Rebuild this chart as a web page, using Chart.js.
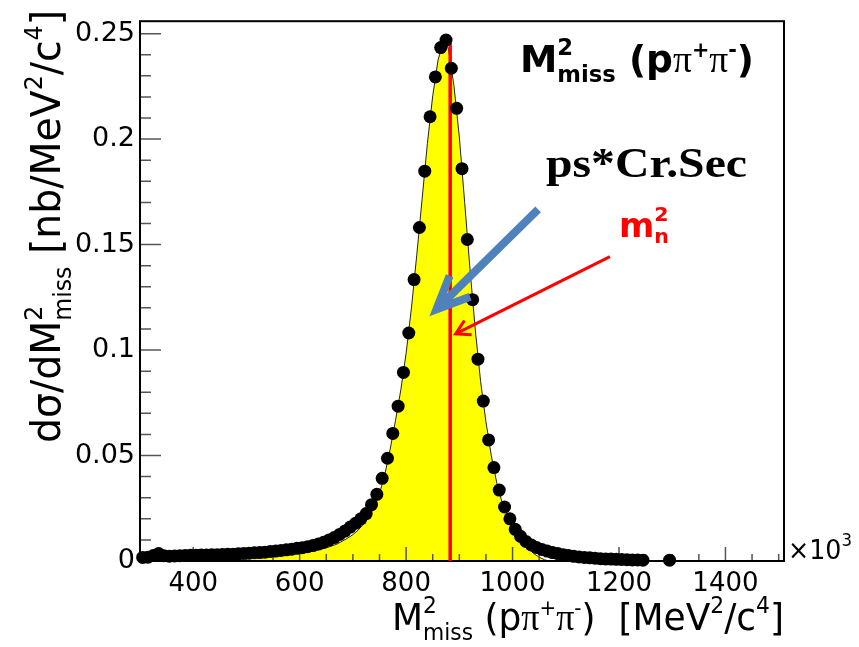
<!DOCTYPE html>
<html>
<head>
<meta charset="utf-8">
<script src="https://cdn.jsdelivr.net/npm/chart.js@4/dist/chart.umd.min.js"></script>
<style>
  html, body { margin: 0; padding: 0; background: #fff; }
  canvas { display: block; }
</style>
</head>
<body>
<canvas id="chart" width="859" height="647"></canvas>
<script>
// measured points (x in 10^3 MeV^2/c^4, y in nb/MeV^2/c^4)
const massBins = [
  305, 315, 325, 335, 345, 355, 365, 375, 385, 395, 405, 415, 425, 435, 445, 455, 465, 475, 485, 495,
  505, 515, 525, 535, 545, 555, 565, 575, 585, 595, 605, 615, 625, 635, 645, 655, 665, 675, 685, 695,
  705, 715, 725, 735, 745, 755, 765, 775, 785, 795, 805, 815, 825, 835, 845, 855, 865, 875, 885, 895,
  905, 915, 925, 935, 945, 955, 965, 975, 985, 995, 1005, 1015, 1025, 1035, 1045, 1055, 1065, 1075, 1085, 1095,
  1105, 1115, 1125, 1135, 1145, 1155, 1165, 1175, 1185, 1195, 1205, 1215, 1225, 1235, 1245, 1295
];
const crossSection = [
  0.0017, 0.0018, 0.0026, 0.0035, 0.0025, 0.0023, 0.0024, 0.0025, 0.0026, 0.0027, 0.0027, 0.0028, 0.0029, 0.0030, 0.0030, 0.0031, 0.0032, 0.0032, 0.0034, 0.0036,
  0.0037, 0.0039, 0.0040, 0.0042, 0.0045, 0.0047, 0.0050, 0.0053, 0.0056, 0.0060, 0.0063, 0.0068, 0.0073, 0.0080, 0.0089, 0.0099, 0.0111, 0.0126, 0.0142, 0.0161,
  0.0179, 0.0200, 0.0225, 0.0267, 0.0316, 0.0392, 0.0487, 0.0605, 0.0734, 0.0894, 0.1081, 0.1334, 0.1581, 0.1848, 0.2106, 0.2295, 0.2434, 0.2470, 0.2336, 0.2146,
  0.1860, 0.1524, 0.1239, 0.0957, 0.0758, 0.0574, 0.0443, 0.0336, 0.0256, 0.0200, 0.0150, 0.0117, 0.0093, 0.0076, 0.0064, 0.0055, 0.0047, 0.0040, 0.0035, 0.0030,
  0.0026, 0.0022, 0.0019, 0.0017, 0.0015, 0.0013, 0.0011, 0.0010, 0.0009, 0.0008, 0.0007, 0.0006, 0.0005, 0.0005, 0.0004, 0.0004
];

// phase space * cross section curve (yellow)
const curveMass = [
  300, 350, 400, 450, 500, 550, 600, 630, 650, 670, 690, 700, 710, 720, 730, 740, 750, 760, 770, 780,
  790, 800, 810, 820, 830, 840, 850, 860, 868, 874, 880, 890, 900, 910, 920, 930, 940, 950, 960, 970,
  980, 990, 1000, 1010, 1020, 1030, 1040, 1050, 1060, 1068
];
const curveValues = [
  0.0008, 0.0012, 0.0015, 0.0019, 0.0024, 0.0030, 0.0040, 0.0050, 0.0062, 0.0080, 0.0108, 0.0125, 0.0147, 0.0175, 0.0210, 0.0255, 0.0320, 0.0410, 0.0530, 0.0665,
  0.0810, 0.0985, 0.1200, 0.1450, 0.1715, 0.1980, 0.2205, 0.2375, 0.2445, 0.2472, 0.2420, 0.2250, 0.2010, 0.1700, 0.1385, 0.1095, 0.0850, 0.0660, 0.0500, 0.0375,
  0.0280, 0.0215, 0.0170, 0.0125, 0.0088, 0.0058, 0.0035, 0.0018, 0.0006, 0
];

const neutronMass2 = 882.8;
const neutronLineTop = 0.2457;

const xTicks = [400, 600, 800, 1000, 1200, 1400];
const yTicks = [0, 0.05, 0.1, 0.15, 0.2, 0.25];

const sans = '"DejaVu Sans", sans-serif';
const serif = '"Liberation Serif", "DejaVu Serif", serif';

function drawRich(ctx, parts, x, y, opts) {
    let cur = 0;
    const layout = [];
    parts.forEach(p => {
        ctx.font = p.font;
        const w = ctx.measureText(p.t).width;
        const start = p.stack ? layout[layout.length - 1].x : cur;
        layout.push({ p, x: start });
        cur = Math.max(cur, start + w);
    });
    const sx = opts.width ? opts.width / cur : 1;
    ctx.save();
    ctx.translate(x, y);
    if (opts.rotate) ctx.rotate(opts.rotate);
    ctx.scale(sx, 1);
    ctx.fillStyle = opts.color || '#000';
    ctx.textAlign = 'left';
    ctx.textBaseline = 'alphabetic';
    layout.forEach(l => {
        ctx.font = l.p.font;
        ctx.fillText(l.p.t, l.x, l.p.dy || 0);
    });
    ctx.restore();
}

function arrow(ctx, x0, y0, x1, y1, color, width, head, spread) {
    const a = Math.atan2(y0 - y1, x0 - x1);
    ctx.save();
    ctx.strokeStyle = color;
    ctx.lineWidth = width;
    ctx.lineCap = 'butt';
    ctx.lineJoin = 'miter';
    ctx.beginPath();
    ctx.moveTo(x0, y0);
    ctx.lineTo(x1, y1);
    ctx.stroke();
    ctx.beginPath();
    ctx.moveTo(x1 + head * Math.cos(a - spread), y1 + head * Math.sin(a - spread));
    ctx.lineTo(x1, y1);
    ctx.lineTo(x1 + head * Math.cos(a + spread), y1 + head * Math.sin(a + spread));
    ctx.stroke();
    ctx.restore();
}

const rootStyle = {
    id: 'rootStyle',
    afterDatasetDraw(chart, args) {
        if (args.index !== 0) return;
        const { ctx, chartArea: area, scales: { x, y } } = chart;
        ctx.save();
        ctx.strokeStyle = '#555';
        ctx.lineWidth = 1.5;
        ctx.beginPath();
        for (let v = 350; v <= 1510; v += 50) {
            const px = x.getPixelForValue(v);
            const len = v % 200 === 0 ? 14 : 7;
            ctx.moveTo(px, area.bottom);
            ctx.lineTo(px, area.bottom - len);
        }
        for (let i = 1; i <= 25; i++) {
            const py = y.getPixelForValue(i / 100);
            const len = i % 5 === 0 ? 21 : 11;
            ctx.moveTo(area.left, py);
            ctx.lineTo(area.left + len, py);
        }
        ctx.stroke();
        ctx.strokeStyle = '#000';
        ctx.lineWidth = 2;
        ctx.strokeRect(area.left, area.top, area.right - area.left, area.bottom - area.top);
        ctx.restore();
    },
    afterDraw(chart) {
        const { ctx, scales: { x, y } } = chart;

        // arrows
        arrow(ctx, x.getPixelForValue(1048), y.getPixelForValue(0.1667),
              x.getPixelForValue(857), y.getPixelForValue(0.1193), '#4f81bd', 8, 36, 0.42);
        arrow(ctx, x.getPixelForValue(1183), y.getPixelForValue(0.1443),
              x.getPixelForValue(893), y.getPixelForValue(0.1077), '#ff0000', 3, 16, 0.52);

        // title
        drawRich(ctx, [
            { t: 'M', font: 'bold 38px ' + sans },
            { t: '2', font: 'bold 23px ' + sans, dy: -17 },
            { t: 'miss', font: 'bold 23px ' + sans, dy: 10, stack: true },
            { t: ' (p', font: 'bold 38px ' + sans },
            { t: 'π', font: '38px ' + serif },
            { t: '+', font: 'bold 21px ' + sans, dy: -15 },
            { t: 'π', font: '38px ' + serif },
            { t: '-', font: 'bold 21px ' + sans, dy: -15 },
            { t: ')', font: 'bold 38px ' + sans }
        ], 520, 72, { width: 234 });

        drawRich(ctx, [{ t: 'ps*Cr.Sec', font: 'bold 42px ' + serif }], 546, 177, { width: 201 });

        drawRich(ctx, [
            { t: 'm', font: 'bold 33px ' + sans },
            { t: '2', font: 'bold 20px ' + sans, dy: -16 },
            { t: 'n', font: 'bold 20px ' + sans, dy: 6, stack: true }
        ], 619, 237, { width: 50, color: '#ff0000' });

        // exponent
        drawRich(ctx, [
            { t: '×10', font: '26px ' + sans },
            { t: '3', font: '17px ' + sans, dy: -13 }
        ], 788, 559, { width: 64 });

        // x title
        drawRich(ctx, [
            { t: 'M', font: '38px ' + sans },
            { t: '2', font: '23px ' + sans, dy: -17 },
            { t: 'miss', font: '23px ' + sans, dy: 10, stack: true },
            { t: ' (p', font: '38px ' + sans },
            { t: 'π', font: '38px ' + serif },
            { t: '+', font: '21px ' + sans, dy: -15 },
            { t: 'π', font: '38px ' + serif },
            { t: '-', font: '21px ' + sans, dy: -15 },
            { t: ')  [MeV', font: '38px ' + sans },
            { t: '2', font: '23px ' + sans, dy: -17 },
            { t: '/c', font: '38px ' + sans },
            { t: '4', font: '23px ' + sans, dy: -17 },
            { t: ']', font: '38px ' + sans }
        ], 392, 630, { width: 392 });

        // y title
        drawRich(ctx, [
            { t: 'dσ/dM', font: '40px ' + sans },
            { t: '2', font: '24px ' + sans, dy: -18 },
            { t: 'miss', font: '24px ' + sans, dy: 11, stack: true },
            { t: ' [nb/MeV', font: '40px ' + sans },
            { t: '2', font: '24px ' + sans, dy: -18 },
            { t: '/c', font: '40px ' + sans },
            { t: '4', font: '24px ' + sans, dy: -18 },
            { t: ']', font: '40px ' + sans }
        ], 60, 443, { width: 433, rotate: -Math.PI / 2 });
    }
};

new Chart(document.getElementById('chart').getContext('2d'), {
    type: 'scatter',
    data: {
        datasets: [
            {
                type: 'line',
                data: curveMass.map((m, i) => ({ x: m, y: curveValues[i] })),
                borderColor: '#222',
                borderWidth: 1,
                backgroundColor: '#ffff00',
                fill: 'origin',
                pointRadius: 0,
                tension: 0,
                order: 3
            },
            {
                type: 'line',
                data: [{ x: neutronMass2, y: 0 }, { x: neutronMass2, y: neutronLineTop }],
                borderColor: '#ff0000',
                borderWidth: 3.5,
                pointRadius: 0,
                fill: false,
                order: 2
            },
            {
                data: massBins.map((m, i) => ({ x: m, y: crossSection[i] })),
                backgroundColor: '#000',
                borderWidth: 0,
                pointRadius: 6.5,
                clip: false,
                order: 1
            }
        ]
    },
    options: {
        responsive: false,
        animation: false,
        layout: { padding: { top: 8, right: 75, left: 0, bottom: 0 } },
        plugins: {
            legend: { display: false },
            tooltip: { enabled: false }
        },
        scales: {
            x: {
                type: 'linear',
                min: 300,
                max: 1510,
                grid: { display: false, drawTicks: false },
                border: { display: false },
                afterBuildTicks: s => { s.ticks = xTicks.map(v => ({ value: v })); },
                afterFit: s => { s.height = 86; },
                ticks: {
                    color: '#000',
                    font: { family: 'DejaVu Sans', size: 26 },
                    padding: 8,
                    maxRotation: 0,
                    autoSkip: false,
                    callback: v => String(v)
                }
            },
            y: {
                min: 0,
                max: 0.2559,
                grid: { display: false, drawTicks: false },
                border: { display: false },
                afterBuildTicks: s => { s.ticks = yTicks.map(v => ({ value: v })); },
                afterFit: s => { s.width = 140; },
                ticks: {
                    color: '#000',
                    font: { family: 'DejaVu Sans', size: 27 },
                    padding: 5,
                    callback: v => String(+v.toFixed(2))
                }
            }
        }
    },
    plugins: [rootStyle]
});
</script>
</body>
</html>
